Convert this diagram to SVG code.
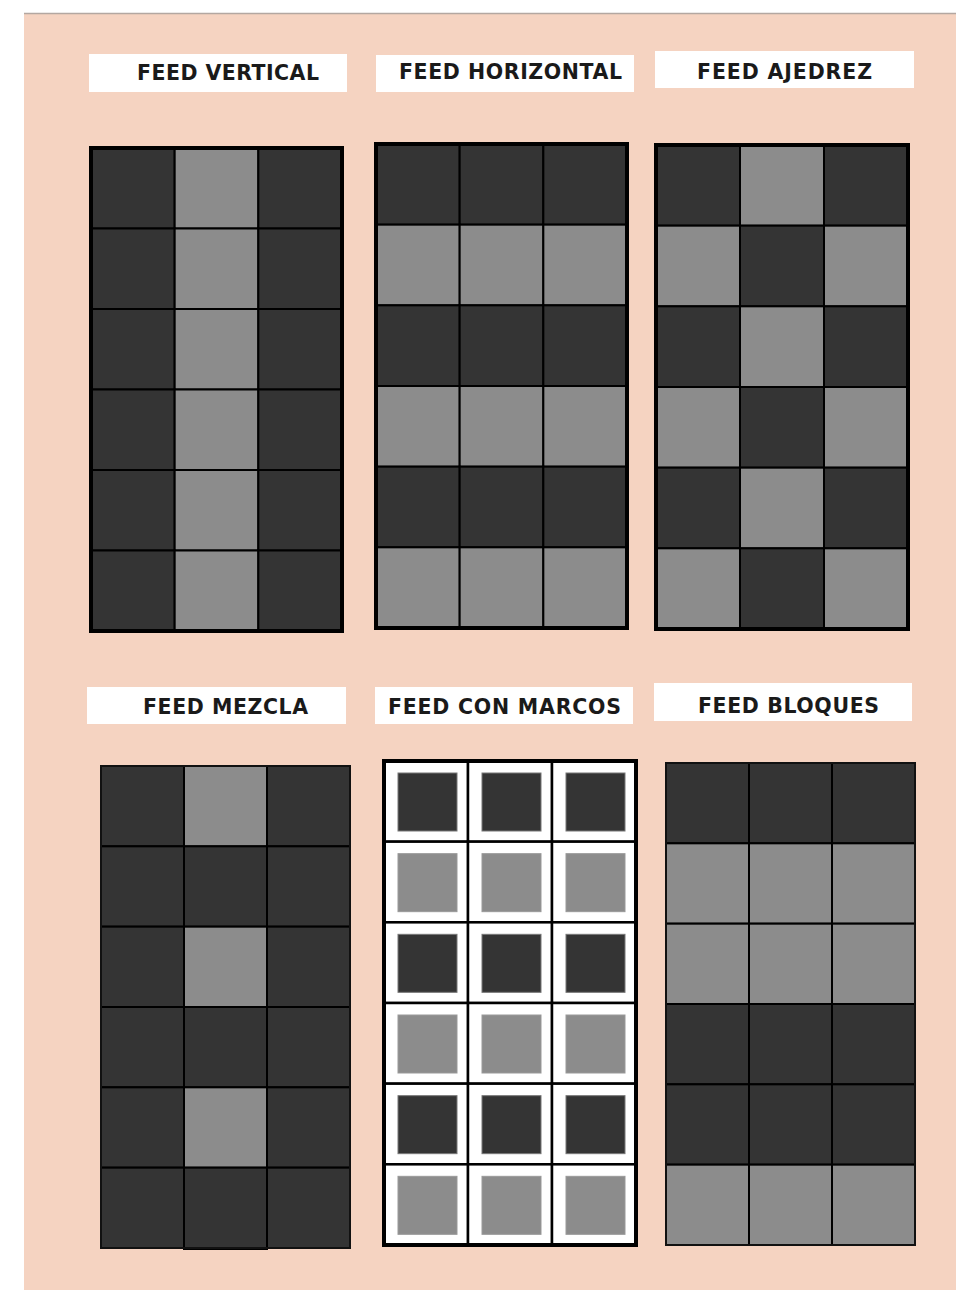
<svg xmlns="http://www.w3.org/2000/svg" width="956" height="1290" viewBox="0 0 956 1290">
<style>
.bg{fill:#f5d3c1}
.lbl{fill:#ffffff}
.t{font-family:"DejaVu Sans","Liberation Sans",sans-serif;font-weight:bold;font-size:20.5px;fill:#1a1a1a}
.d{fill:#343434;stroke:#000;stroke-width:2}
.l{fill:#8c8c8c;stroke:#000;stroke-width:2}
.frame{fill:none;stroke:#000;stroke-width:4}
.thin{fill:none;stroke:#111;stroke-width:2}
.w{fill:#ffffff;stroke:#000;stroke-width:2.5}
.di{fill:#343434;stroke:#777;stroke-width:1}
.li{fill:#8c8c8c;stroke:#999;stroke-width:1}
</style>
<rect x="0" y="0" width="956" height="1290" fill="#ffffff"/>
<rect class="bg" x="24" y="13" width="932" height="1277"/>
<line x1="24" y1="13.5" x2="956" y2="13.5" stroke="#b3a7a1" stroke-width="1.5"/>

<g id="feed-vertical">
<rect class="lbl" x="89" y="54" width="258" height="38"/>
<text class="t" x="137" y="80" textLength="182" lengthAdjust="spacing">FEED VERTICAL</text>
<rect class="d" x="91" y="148" width="83.67" height="80.5"/><rect class="l" x="174.67" y="148" width="83.67" height="80.5"/><rect class="d" x="258.33" y="148" width="83.67" height="80.5"/>
<rect class="d" x="91" y="228.5" width="83.67" height="80.5"/><rect class="l" x="174.67" y="228.5" width="83.67" height="80.5"/><rect class="d" x="258.33" y="228.5" width="83.67" height="80.5"/>
<rect class="d" x="91" y="309" width="83.67" height="80.5"/><rect class="l" x="174.67" y="309" width="83.67" height="80.5"/><rect class="d" x="258.33" y="309" width="83.67" height="80.5"/>
<rect class="d" x="91" y="389.5" width="83.67" height="80.5"/><rect class="l" x="174.67" y="389.5" width="83.67" height="80.5"/><rect class="d" x="258.33" y="389.5" width="83.67" height="80.5"/>
<rect class="d" x="91" y="470" width="83.67" height="80.5"/><rect class="l" x="174.67" y="470" width="83.67" height="80.5"/><rect class="d" x="258.33" y="470" width="83.67" height="80.5"/>
<rect class="d" x="91" y="550.5" width="83.67" height="80.5"/><rect class="l" x="174.67" y="550.5" width="83.67" height="80.5"/><rect class="d" x="258.33" y="550.5" width="83.67" height="80.5"/>
<rect class="frame" x="91" y="148" width="251" height="483"/>
</g>

<g id="feed-horizontal">
<rect class="lbl" x="376" y="55" width="258" height="37"/>
<text class="t" x="399" y="79" textLength="223" lengthAdjust="spacing">FEED HORIZONTAL</text>
<rect class="d" x="376" y="144" width="83.67" height="80.67"/><rect class="d" x="459.67" y="144" width="83.67" height="80.67"/><rect class="d" x="543.33" y="144" width="83.67" height="80.67"/>
<rect class="l" x="376" y="224.67" width="83.67" height="80.67"/><rect class="l" x="459.67" y="224.67" width="83.67" height="80.67"/><rect class="l" x="543.33" y="224.67" width="83.67" height="80.67"/>
<rect class="d" x="376" y="305.33" width="83.67" height="80.67"/><rect class="d" x="459.67" y="305.33" width="83.67" height="80.67"/><rect class="d" x="543.33" y="305.33" width="83.67" height="80.67"/>
<rect class="l" x="376" y="386" width="83.67" height="80.67"/><rect class="l" x="459.67" y="386" width="83.67" height="80.67"/><rect class="l" x="543.33" y="386" width="83.67" height="80.67"/>
<rect class="d" x="376" y="466.67" width="83.67" height="80.67"/><rect class="d" x="459.67" y="466.67" width="83.67" height="80.67"/><rect class="d" x="543.33" y="466.67" width="83.67" height="80.67"/>
<rect class="l" x="376" y="547.33" width="83.67" height="80.67"/><rect class="l" x="459.67" y="547.33" width="83.67" height="80.67"/><rect class="l" x="543.33" y="547.33" width="83.67" height="80.67"/>
<rect class="frame" x="376" y="144" width="251" height="484"/>
</g>

<g id="feed-ajedrez">
<rect class="lbl" x="655" y="51" width="259" height="37"/>
<text class="t" x="697" y="79" textLength="175" lengthAdjust="spacing">FEED AJEDREZ</text>
<rect class="d" x="656" y="145" width="84" height="80.67"/><rect class="l" x="740" y="145" width="84" height="80.67"/><rect class="d" x="824" y="145" width="84" height="80.67"/>
<rect class="l" x="656" y="225.67" width="84" height="80.67"/><rect class="d" x="740" y="225.67" width="84" height="80.67"/><rect class="l" x="824" y="225.67" width="84" height="80.67"/>
<rect class="d" x="656" y="306.33" width="84" height="80.67"/><rect class="l" x="740" y="306.33" width="84" height="80.67"/><rect class="d" x="824" y="306.33" width="84" height="80.67"/>
<rect class="l" x="656" y="387" width="84" height="80.67"/><rect class="d" x="740" y="387" width="84" height="80.67"/><rect class="l" x="824" y="387" width="84" height="80.67"/>
<rect class="d" x="656" y="467.67" width="84" height="80.67"/><rect class="l" x="740" y="467.67" width="84" height="80.67"/><rect class="d" x="824" y="467.67" width="84" height="80.67"/>
<rect class="l" x="656" y="548.33" width="84" height="80.67"/><rect class="d" x="740" y="548.33" width="84" height="80.67"/><rect class="l" x="824" y="548.33" width="84" height="80.67"/>
<rect class="frame" x="656" y="145" width="252" height="484"/>
</g>

<g id="feed-mezcla">
<rect class="lbl" x="87" y="687" width="259" height="37"/>
<text class="t" x="143" y="714" textLength="165" lengthAdjust="spacing">FEED MEZCLA</text>
<rect class="d" x="101" y="766" width="83" height="80.33"/><rect class="l" x="184" y="766" width="83" height="80.33"/><rect class="d" x="267" y="766" width="83" height="80.33"/>
<rect class="d" x="101" y="846.33" width="83" height="80.33"/><rect class="d" x="184" y="846.33" width="83" height="80.33"/><rect class="d" x="267" y="846.33" width="83" height="80.33"/>
<rect class="d" x="101" y="926.67" width="83" height="80.33"/><rect class="l" x="184" y="926.67" width="83" height="80.33"/><rect class="d" x="267" y="926.67" width="83" height="80.33"/>
<rect class="d" x="101" y="1007" width="83" height="80.33"/><rect class="d" x="184" y="1007" width="83" height="80.33"/><rect class="d" x="267" y="1007" width="83" height="80.33"/>
<rect class="d" x="101" y="1087.33" width="83" height="80.33"/><rect class="l" x="184" y="1087.33" width="83" height="80.33"/><rect class="d" x="267" y="1087.33" width="83" height="80.33"/>
<rect class="d" x="101" y="1167.67" width="83" height="80.33"/><rect class="d" x="184" y="1167.67" width="83" height="81.33"/><rect class="d" x="267" y="1167.67" width="83" height="80.33"/>
<rect class="thin" x="101" y="766" width="249" height="482"/>
</g>

<g id="feed-con-marcos">
<rect class="lbl" x="375" y="687" width="258" height="37"/>
<text class="t" x="388" y="714" textLength="233" lengthAdjust="spacing">FEED CON MARCOS</text>
<rect class="w" x="384" y="761" width="84" height="80.67"/><rect class="w" x="468" y="761" width="84" height="80.67"/><rect class="w" x="552" y="761" width="84" height="80.67"/>
<rect class="w" x="384" y="841.67" width="84" height="80.67"/><rect class="w" x="468" y="841.67" width="84" height="80.67"/><rect class="w" x="552" y="841.67" width="84" height="80.67"/>
<rect class="w" x="384" y="922.33" width="84" height="80.67"/><rect class="w" x="468" y="922.33" width="84" height="80.67"/><rect class="w" x="552" y="922.33" width="84" height="80.67"/>
<rect class="w" x="384" y="1003" width="84" height="80.67"/><rect class="w" x="468" y="1003" width="84" height="80.67"/><rect class="w" x="552" y="1003" width="84" height="80.67"/>
<rect class="w" x="384" y="1083.67" width="84" height="80.67"/><rect class="w" x="468" y="1083.67" width="84" height="80.67"/><rect class="w" x="552" y="1083.67" width="84" height="80.67"/>
<rect class="w" x="384" y="1164.33" width="84" height="80.67"/><rect class="w" x="468" y="1164.33" width="84" height="80.67"/><rect class="w" x="552" y="1164.33" width="84" height="80.67"/>
<rect class="di" x="398" y="773" width="59" height="58"/><rect class="di" x="482" y="773" width="59" height="58"/><rect class="di" x="566" y="773" width="59" height="58"/>
<rect class="li" x="398" y="853.67" width="59" height="58"/><rect class="li" x="482" y="853.67" width="59" height="58"/><rect class="li" x="566" y="853.67" width="59" height="58"/>
<rect class="di" x="398" y="934.33" width="59" height="58"/><rect class="di" x="482" y="934.33" width="59" height="58"/><rect class="di" x="566" y="934.33" width="59" height="58"/>
<rect class="li" x="398" y="1015" width="59" height="58"/><rect class="li" x="482" y="1015" width="59" height="58"/><rect class="li" x="566" y="1015" width="59" height="58"/>
<rect class="di" x="398" y="1095.67" width="59" height="58"/><rect class="di" x="482" y="1095.67" width="59" height="58"/><rect class="di" x="566" y="1095.67" width="59" height="58"/>
<rect class="li" x="398" y="1176.33" width="59" height="58"/><rect class="li" x="482" y="1176.33" width="59" height="58"/><rect class="li" x="566" y="1176.33" width="59" height="58"/>
<rect class="frame" x="384" y="761" width="252" height="484"/>
</g>

<g id="feed-bloques">
<rect class="lbl" x="654" y="683" width="258" height="38"/>
<text class="t" x="698" y="713" textLength="181" lengthAdjust="spacing">FEED BLOQUES</text>
<rect class="d" x="666" y="763" width="83" height="80.33"/><rect class="d" x="749" y="763" width="83" height="80.33"/><rect class="d" x="832" y="763" width="83" height="80.33"/>
<rect class="l" x="666" y="843.33" width="83" height="80.33"/><rect class="l" x="749" y="843.33" width="83" height="80.33"/><rect class="l" x="832" y="843.33" width="83" height="80.33"/>
<rect class="l" x="666" y="923.67" width="83" height="80.33"/><rect class="l" x="749" y="923.67" width="83" height="80.33"/><rect class="l" x="832" y="923.67" width="83" height="80.33"/>
<rect class="d" x="666" y="1004" width="83" height="80.33"/><rect class="d" x="749" y="1004" width="83" height="80.33"/><rect class="d" x="832" y="1004" width="83" height="80.33"/>
<rect class="d" x="666" y="1084.33" width="83" height="80.33"/><rect class="d" x="749" y="1084.33" width="83" height="80.33"/><rect class="d" x="832" y="1084.33" width="83" height="80.33"/>
<rect class="l" x="666" y="1164.67" width="83" height="80.33"/><rect class="l" x="749" y="1164.67" width="83" height="80.33"/><rect class="l" x="832" y="1164.67" width="83" height="80.33"/>
<rect class="thin" x="666" y="763" width="249" height="482"/>
</g>
</svg>
